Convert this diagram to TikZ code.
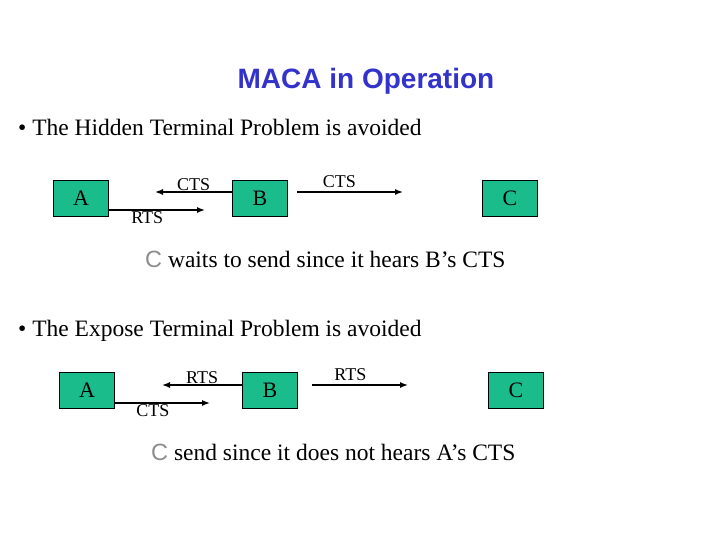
\documentclass[tikz,border=0pt]{standalone}
\usepackage{fontspec}
\setmainfont{Liberation Serif}
\setsansfont{Liberation Sans}
\usetikzlibrary{positioning,arrows.meta}
\definecolor{boxgreen}{RGB}{26,188,140}
\definecolor{titleblue}{RGB}{51,51,204}
\definecolor{cgray}{RGB}{140,140,140}
\tikzset{
  station/.style={draw,fill=boxgreen,minimum width=55pt,minimum height=36pt,inner sep=0pt,font=\fontsize{22}{24}\selectfont},
  msg/.style={-{Latex[length=8pt,width=6pt]},line width=1.4pt},
  lbl/.style={font=\fontsize{18}{20}\selectfont,inner sep=1pt},
  body/.style={font=\fontsize{23.5}{26}\selectfont,anchor=west,inner sep=0pt}
}
\begin{document}
\begin{tikzpicture}[x=1pt,y=-1pt]
  \useasboundingbox (0,0) rectangle (720,540);
  \node[font=\sffamily\bfseries\fontsize{28}{32}\selectfont,text=titleblue] (title) at (366,81) {MACA in Operation};
  % hidden terminal
  \node[body] (hidden) at (18,127) {\textbullet\ The Hidden Terminal Problem is avoided};
  \node[station] (a1) at (81,198) {A};
  \node[station] (b1) at (260,198) {B};
  \node[station] (c1) at (510,198) {C};
  \coordinate (l1) at (155,192);
  \coordinate (m1) at (205,210);
  \coordinate (r1a) at (297,192);
  \coordinate (r1) at (403,192);
  \draw[msg] (b1.west |- l1) -- node[lbl,above,pos=0.5] {CTS} (l1);
  \draw[msg] (a1.east |- m1) -- node[lbl,below,pos=0.4] {RTS} (m1);
  \draw[msg] (r1a) -- node[lbl,above=3pt,pos=0.4] {CTS} (r1);
  \node[body] (note1) at (145,259) {{\sffamily\color{cgray}C} waits to send since it hears B’s CTS};
  % exposed terminal
  \node[body] (exposed) at (18,331) {\textbullet\ The Expose Terminal Problem is avoided};
  \node[station] (a2) at (87,390) {A};
  \node[station] (b2) at (270,390) {B};
  \node[station] (c2) at (516,390) {C};
  \coordinate (l2) at (162,385);
  \coordinate (m2) at (210,403);
  \coordinate (r2a) at (312,385);
  \coordinate (r2) at (408,385);
  \draw[msg] (b2.west |- l2) -- node[lbl,above,pos=0.5] {RTS} (l2);
  \draw[msg] (a2.east |- m2) -- node[lbl,below,pos=0.4] {CTS} (m2);
  \draw[msg] (r2a) -- node[lbl,above=3pt,pos=0.4] {RTS} (r2);
  \node[body] (note2) at (151,452) {{\sffamily\color{cgray}C} send since it does not hears A’s CTS};
\end{tikzpicture}
\end{document}
